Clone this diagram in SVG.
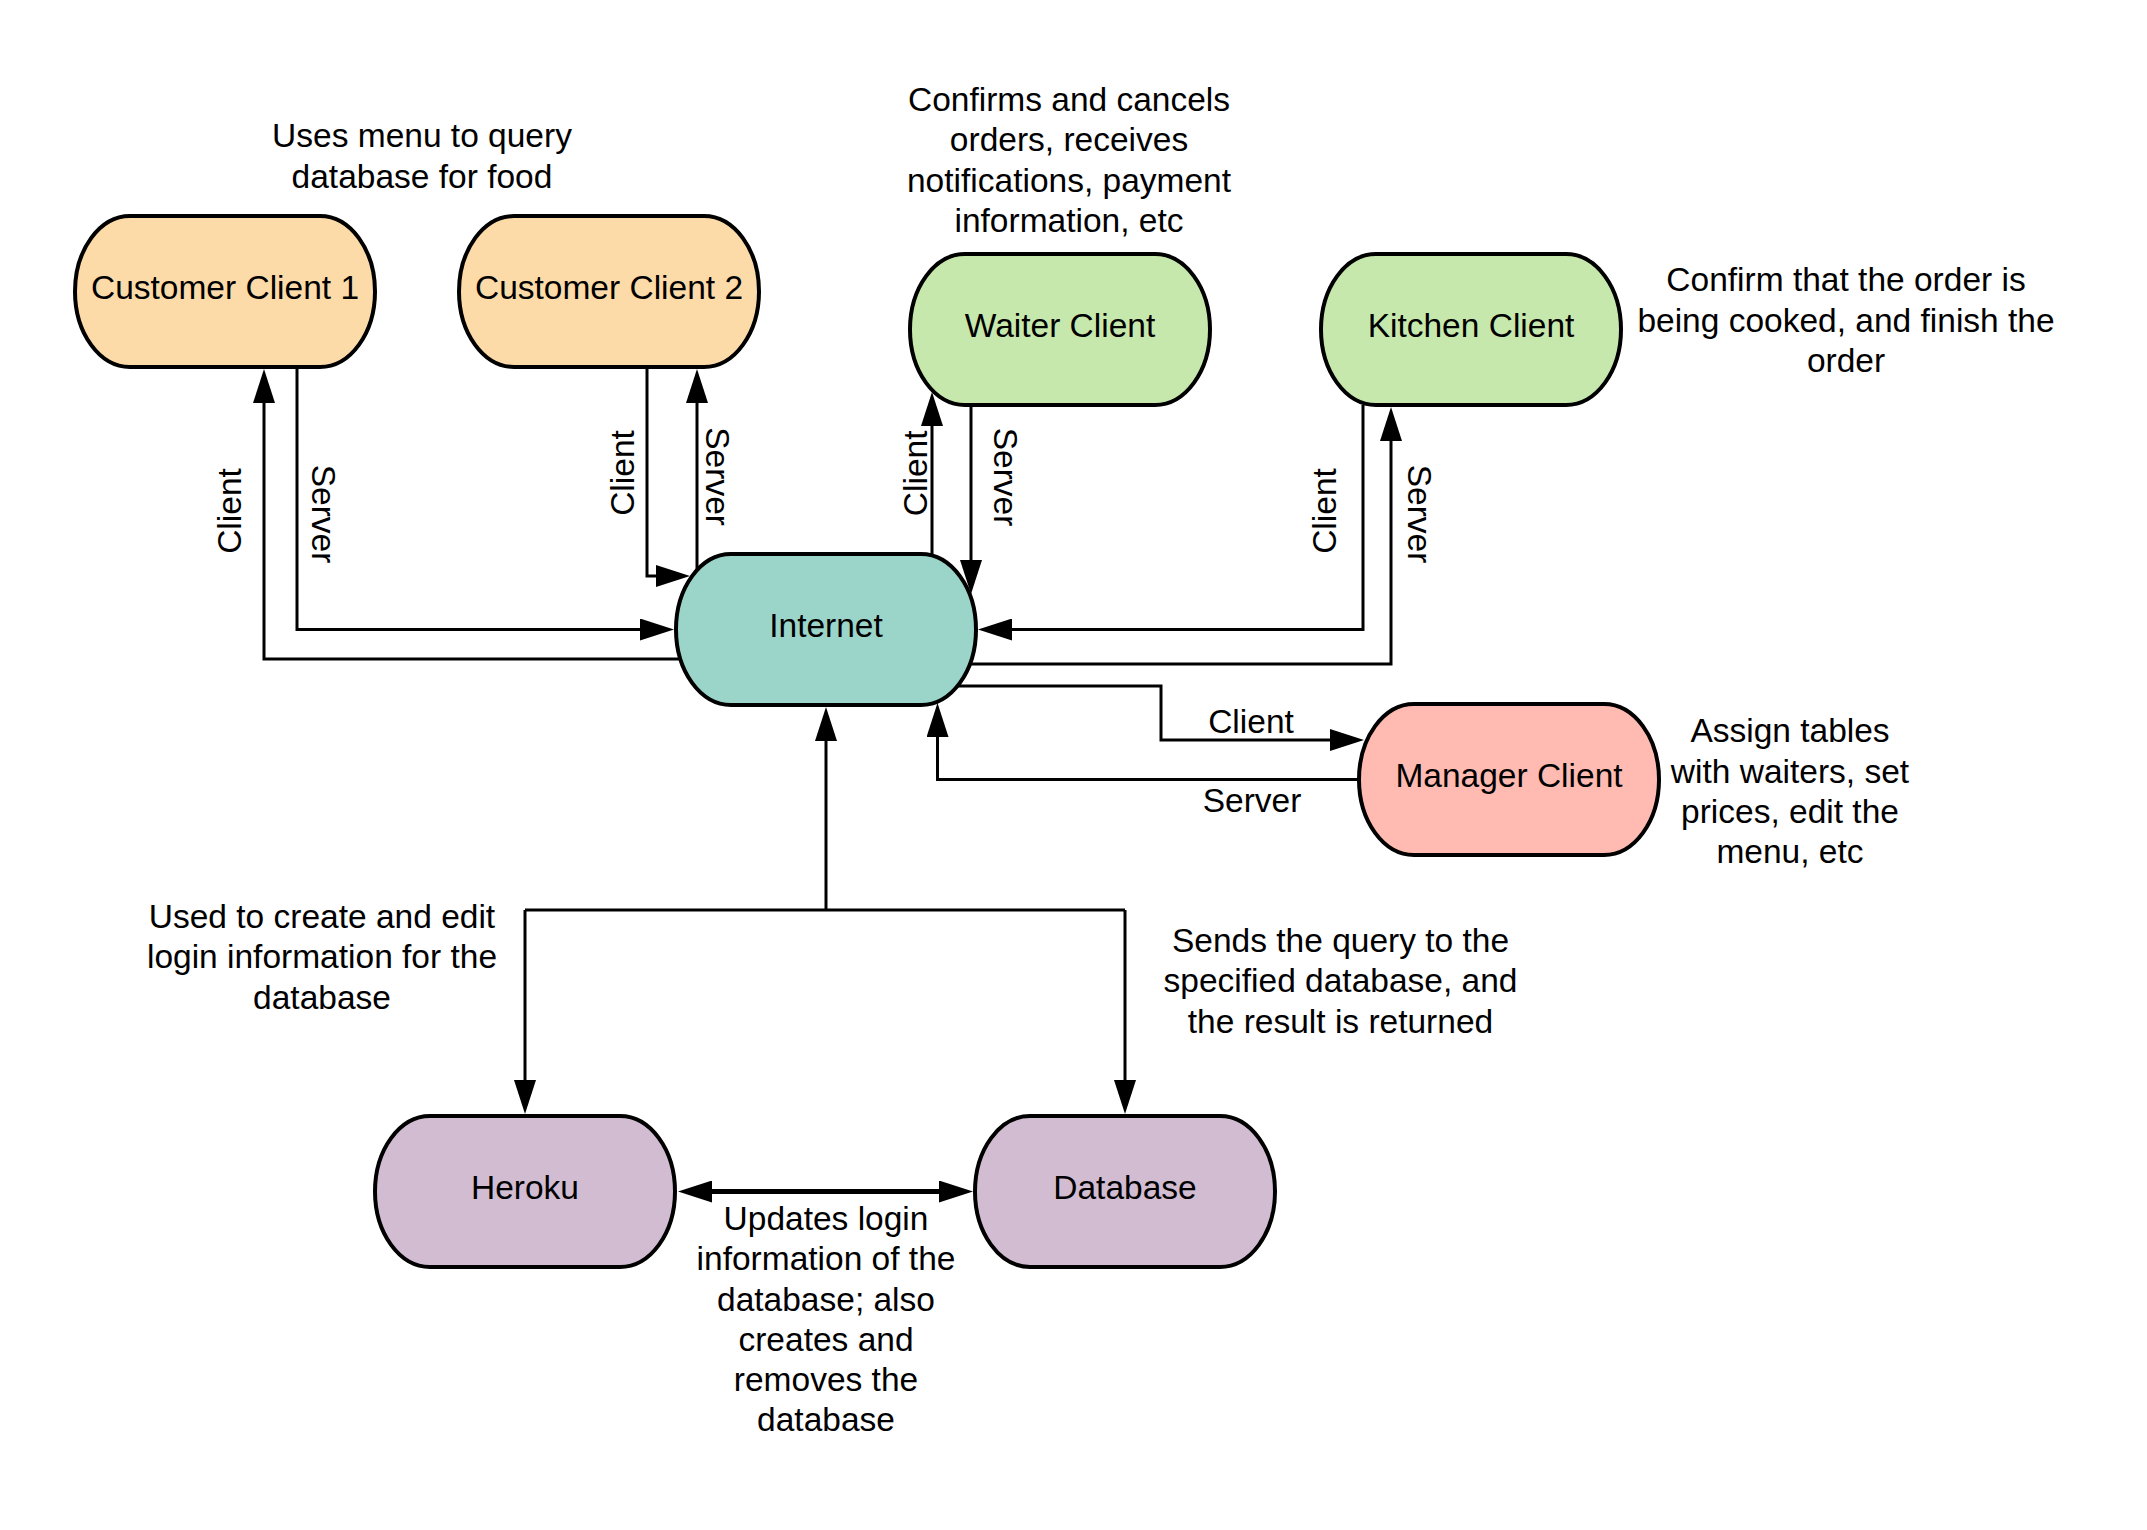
<svg xmlns="http://www.w3.org/2000/svg" width="2147" height="1530" viewBox="0 0 2147 1530">
<style>
.node{stroke:#000;stroke-width:4}
.cust{fill:#FDDBA9}
.green{fill:#C7E8AC}
.net{fill:#9BD4C9}
.mgr{fill:#FFBBB1}
.purp{fill:#D1BCD2}
text{font-family:"Liberation Sans",Arial,sans-serif;font-size:33.5px;fill:#000}
.c{text-anchor:middle}
.ln{fill:none;stroke:#000;stroke-width:3}
.thick{stroke-width:5}
</style>
<defs>
<marker id="ah" viewBox="0 0 34 22" markerUnits="userSpaceOnUse" markerWidth="34" markerHeight="22" refX="0" refY="11" orient="auto-start-reverse">
<path d="M0,0 L34,11 L0,22 Z" fill="#000"/>
</marker>
</defs>
<rect width="2147" height="1530" fill="#fff"/>

<g id="connectors">
<path class="ln" d="M680,659 H264 V403" marker-end="url(#ah)"/>
<path class="ln" d="M297,367 V629.5 H640" marker-end="url(#ah)"/>
<path class="ln" d="M647,367 V576 H656" marker-end="url(#ah)"/>
<path class="ln" d="M697,570 V403" marker-end="url(#ah)"/>
<path class="ln" d="M932,556 V426" marker-end="url(#ah)"/>
<path class="ln" d="M971,405 V560" marker-end="url(#ah)"/>
<path class="ln" d="M1363,405 V629.5 H1012" marker-end="url(#ah)"/>
<path class="ln" d="M970,664 H1391 V441" marker-end="url(#ah)"/>
<path class="ln" d="M958,686 H1161 V740 H1330" marker-end="url(#ah)"/>
<path class="ln" d="M1359,779.5 H937.5 V737" marker-end="url(#ah)"/>
<path class="ln" d="M826,910 V741" marker-end="url(#ah)"/>
<path class="ln" d="M525,910 H1125"/>
<path class="ln" d="M525,910 V1080" marker-end="url(#ah)"/>
<path class="ln" d="M1125,910 V1080" marker-end="url(#ah)"/>
<path class="ln thick" d="M712,1191.5 H939" marker-start="url(#ah)" marker-end="url(#ah)"/>

<text class="c" transform="translate(229,511) rotate(-90)" x="0" y="12">Client</text>
<text class="c" transform="translate(324,514) rotate(90)" x="0" y="12">Server</text>
<text class="c" transform="translate(621.7,473) rotate(-90)" x="0" y="12">Client</text>
<text class="c" transform="translate(717.5,476.6) rotate(90)" x="0" y="12">Server</text>
<text class="c" transform="translate(914.7,473.3) rotate(-90)" x="0" y="12">Client</text>
<text class="c" transform="translate(1006,477) rotate(90)" x="0" y="12">Server</text>
<text class="c" transform="translate(1324,511) rotate(-90)" x="0" y="12">Client</text>
<text class="c" transform="translate(1419.5,514) rotate(90)" x="0" y="12">Server</text>
<text class="c" x="1251" y="732.5">Client</text>
<text class="c" x="1252" y="811.5">Server</text>
</g>

<g id="customer-client-1">
<rect class="node cust" x="75" y="216" width="300" height="151" rx="55" ry="75.5"/>
<text class="c" x="225" y="299">Customer Client 1</text>
</g>
<g id="customer-client-2">
<rect class="node cust" x="459" y="216" width="300" height="151" rx="55" ry="75.5"/>
<text class="c" x="609" y="299">Customer Client 2</text>
</g>
<g id="waiter-client">
<rect class="node green" x="910" y="254" width="300" height="151" rx="55" ry="75.5"/>
<text class="c" x="1060" y="336.5">Waiter Client</text>
</g>
<g id="kitchen-client">
<rect class="node green" x="1321" y="254" width="300" height="151" rx="55" ry="75.5"/>
<text class="c" x="1471" y="336.5">Kitchen Client</text>
</g>
<g id="internet">
<rect class="node net" x="676" y="554" width="300" height="151" rx="55" ry="75.5"/>
<text class="c" x="826" y="636.5">Internet</text>
</g>
<g id="manager-client">
<rect class="node mgr" x="1359" y="704" width="300" height="151" rx="55" ry="75.5"/>
<text class="c" x="1509" y="787">Manager Client</text>
</g>
<g id="heroku">
<rect class="node purp" x="375" y="1116" width="300" height="151" rx="55" ry="75.5"/>
<text class="c" x="525" y="1199">Heroku</text>
</g>
<g id="database">
<rect class="node purp" x="975" y="1116" width="300" height="151" rx="55" ry="75.5"/>
<text class="c" x="1125" y="1199">Database</text>
</g>

<g id="annotations">
<text class="c" x="422"><tspan x="422" y="147">Uses menu to query</tspan><tspan x="422" y="187.5">database for food</tspan></text>
<text class="c" x="1069"><tspan x="1069" y="111">Confirms and cancels</tspan><tspan x="1069" y="151">orders, receives</tspan><tspan x="1069" y="191.5">notifications, payment</tspan><tspan x="1069" y="231.7">information, etc</tspan></text>
<text class="c" x="1846"><tspan x="1846" y="291">Confirm that the order is</tspan><tspan x="1846" y="331.5">being cooked, and finish the</tspan><tspan x="1846" y="372">order</tspan></text>
<text class="c" x="1790"><tspan x="1790" y="742">Assign tables</tspan><tspan x="1790" y="782.5">with waiters, set</tspan><tspan x="1790" y="823">prices, edit the</tspan><tspan x="1790" y="863">menu, etc</tspan></text>
<text class="c" x="322"><tspan x="322" y="927.5">Used to create and edit</tspan><tspan x="322" y="968">login information for the</tspan><tspan x="322" y="1008.5">database</tspan></text>
<text class="c" x="1340.5"><tspan x="1340.5" y="952">Sends the query to the</tspan><tspan x="1340.5" y="992">specified database, and</tspan><tspan x="1340.5" y="1032.5">the result is returned</tspan></text>
<text class="c" x="826"><tspan x="826" y="1230">Updates login</tspan><tspan x="826" y="1270">information of the</tspan><tspan x="826" y="1310.5">database; also</tspan><tspan x="826" y="1350.5">creates and</tspan><tspan x="826" y="1391">removes the</tspan><tspan x="826" y="1431">database</tspan></text>
</g>
</svg>
